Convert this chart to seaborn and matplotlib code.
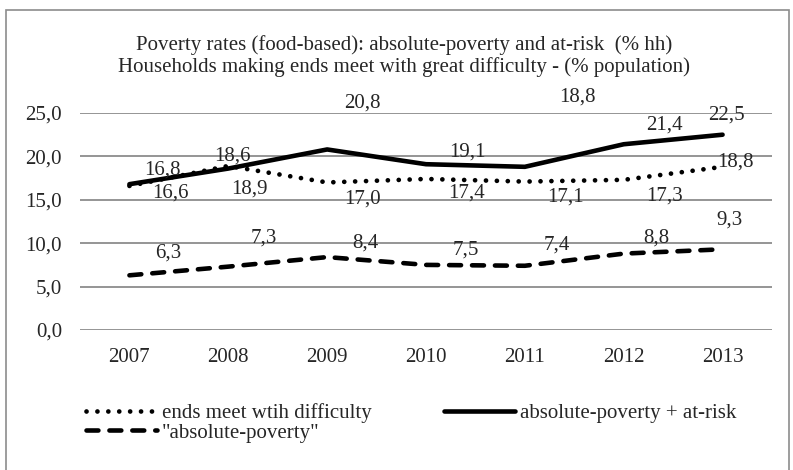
import matplotlib
matplotlib.use("Agg")
from matplotlib import pyplot as plt
import matplotlib.patches as mpatches
import pandas as pd
import seaborn as sns

# data
years = ["2007", "2008", "2009", "2010", "2011", "2012", "2013"]
ends_meet = [16.6, 18.9, 17.0, 17.4, 17.1, 17.3, 18.8]
abs_at_risk = [16.8, 18.6, 20.8, 19.1, 18.8, 21.4, 22.5]
abs_poverty = [6.3, 7.3, 8.4, 7.5, 7.4, 8.8, 9.3]

title = ("Poverty rates (food-based): absolute-poverty and at-risk  (% hh)\n"
         "Households making ends meet with great difficulty - (% population)")

# label offsets in pixels (dx, dy up) - hand placed like the excel chart
off_ends = [(41, -7), (21, -23), (35, -17), (41, -14), (41, -15), (41, -16), (13, 5)]
off_risk = [(33, 14), (4, 13), (35, 46), (41, 12), (53, 70), (41, 19), (4, 20)]
off_pov = [(39, 22), (36, 29), (38, 14), (40, 15), (32, 21), (33, 16), (7, 29)]

sns.set_theme(style="white")
plt.rcParams['font.family'] = ['Liberation Serif', 'DejaVu Serif']
FS = 15

df = pd.DataFrame({"x": range(len(years)), "ends": ends_meet,
                   "risk": abs_at_risk, "pov": abs_poverty})

fig = plt.figure(figsize=(7.93, 4.70), dpi=100)
fig.patches.append(mpatches.Rectangle((6 / 793, -0.02), 783 / 793, 1 - 10 / 470 + 0.02,
                                      transform=fig.transFigure, fill=False,
                                      edgecolor="#8c8c8c", lw=1.2))
ax = fig.add_axes([80 / 793, 1 - 330 / 470, 692 / 793, 217 / 470])

sns.lineplot(data=df, x="x", y="ends", ax=ax, color="black", lw=3.4,
             linestyle=(0, (0.01, 2.3)), dash_capstyle="round",
             label="ends meet wtih difficulty")
sns.lineplot(data=df, x="x", y="pov", ax=ax, color="black", lw=3.3,
             linestyle=(0, (2.6, 2.4)), dash_capstyle="round",
             label='"absolute-poverty"')
sns.lineplot(data=df, x="x", y="risk", ax=ax, color="black", lw=3.3,
             solid_capstyle="round", label="absolute-poverty + at-risk")

for vals, offs in [(ends_meet, off_ends), (abs_at_risk, off_risk), (abs_poverty, off_pov)]:
    for i, v in enumerate(vals):
        ax.annotate(f"{v:.1f}".replace(".", ","), (i, v), xytext=offs[i],
                    textcoords="offset pixels", ha="center", va="center",
                    fontsize=FS)

ax.set_xlim(-0.5, len(years) - 0.5)
ax.set_ylim(0, 25)
ax.set_yticks([0, 5, 10, 15, 20, 25])
ax.set_yticklabels([f"{t:.1f}".replace(".", ",") for t in [0, 5, 10, 15, 20, 25]])
ax.set_xticks(range(len(years)))
ax.set_xticklabels(years)
ax.yaxis.grid(True, color="#8c8c8c", lw=1.3)
ax.set_axisbelow(True)
for s in ax.spines.values():
    s.set_visible(False)
ax.tick_params(axis="y", length=0, pad=13, labelsize=FS)
ax.tick_params(axis="x", length=0, pad=13, labelsize=FS)
ax.set_xlabel("")
ax.set_ylabel("")

ax.get_legend().remove()
h, l = ax.get_legend_handles_labels()
fig.legend(h, l, ncol=2, loc="center left", bbox_to_anchor=(67 / 793, 1 - 423 / 470),
           frameon=False, fontsize=FS, handlelength=3.4, handletextpad=0.25,
           columnspacing=3.5, labelspacing=0.0)

fig.text(404 / 793, 1 - 56 / 470, title, ha="center", va="center", fontsize=FS,
         linespacing=1.2)

fig.savefig("out.png", dpi=100)
